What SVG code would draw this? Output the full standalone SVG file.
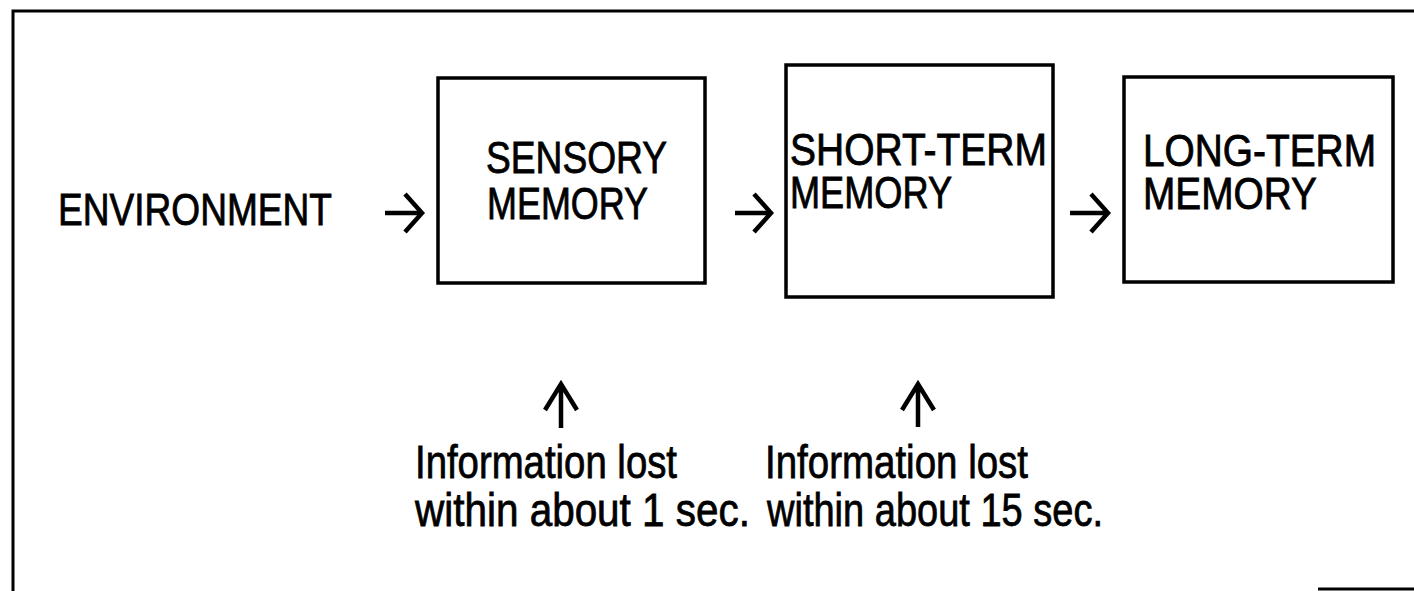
<svg xmlns="http://www.w3.org/2000/svg" width="1414" height="591" viewBox="0 0 1414 591">
  <style>
    .frame { fill: none; stroke: #000; stroke-width: 3; }
    .box { fill: #fff; stroke: #000; stroke-width: 3.5; }
    .lbl { font-family: "Liberation Sans", Arial, sans-serif; font-size: 44px; fill: #000; stroke: #000; stroke-width: 0.8; }
    .note { font-family: "Liberation Sans", Arial, sans-serif; font-size: 47px; fill: #000; stroke: #000; stroke-width: 0.8; }
    .arrow { fill: none; stroke: #000; stroke-width: 4.5; stroke-linecap: butt; stroke-linejoin: miter; }
  </style>
  <rect width="1414" height="591" fill="#fff"/>

  <!-- outer border -->
  <g id="frame">
    <path class="frame" d="M13,591 V11 H1414"/>
    <path class="frame" d="M1318,589 H1414"/>
  </g>

  <g id="environment">
    <text class="lbl" x="58" y="225" textLength="274" lengthAdjust="spacingAndGlyphs">ENVIRONMENT</text>
  </g>

  <g id="sensory-memory">
    <rect class="box" x="438" y="78" width="267" height="205"/>
    <text class="lbl" x="486" y="173" textLength="181" lengthAdjust="spacingAndGlyphs">SENSORY</text>
    <text class="lbl" x="487" y="219" textLength="161" lengthAdjust="spacingAndGlyphs">MEMORY</text>
  </g>

  <g id="short-term-memory">
    <rect class="box" x="786" y="65" width="267" height="232"/>
    <text class="lbl" x="790" y="165" textLength="257" lengthAdjust="spacingAndGlyphs">SHORT-TERM</text>
    <text class="lbl" x="790" y="208" textLength="162" lengthAdjust="spacingAndGlyphs">MEMORY</text>
  </g>

  <g id="long-term-memory">
    <rect class="box" x="1124" y="77" width="269" height="205"/>
    <text class="lbl" x="1143" y="166" textLength="233" lengthAdjust="spacingAndGlyphs">LONG-TERM</text>
    <text class="lbl" x="1143" y="209" textLength="174" lengthAdjust="spacingAndGlyphs">MEMORY</text>
  </g>

  <g id="sensory-loss">
    <text class="note" x="415" y="478" textLength="262" lengthAdjust="spacingAndGlyphs">Information lost</text>
    <text class="note" x="415" y="526" textLength="335" lengthAdjust="spacingAndGlyphs">within about 1 sec.</text>
  </g>

  <g id="short-term-loss">
    <text class="note" x="765" y="478" textLength="263" lengthAdjust="spacingAndGlyphs">Information lost</text>
    <text class="note" x="767" y="526" textLength="336" lengthAdjust="spacingAndGlyphs">within about 15 sec.</text>
  </g>

  <!-- connectors -->
  <g id="connectors">
    <path class="arrow" d="M385,213 H420 M405,194 L422,213 L405,232"/>
    <path class="arrow" d="M735,213 H769 M754,194 L771,213 L754,232"/>
    <path class="arrow" d="M1070,213 H1106 M1091,194 L1108,213 L1091,232"/>
    <path class="arrow" d="M561,428 V386 M545,410 L561,384 L577,410"/>
    <path class="arrow" d="M918,427 V386 M902,410 L918,384 L934,410"/>
  </g>
</svg>
